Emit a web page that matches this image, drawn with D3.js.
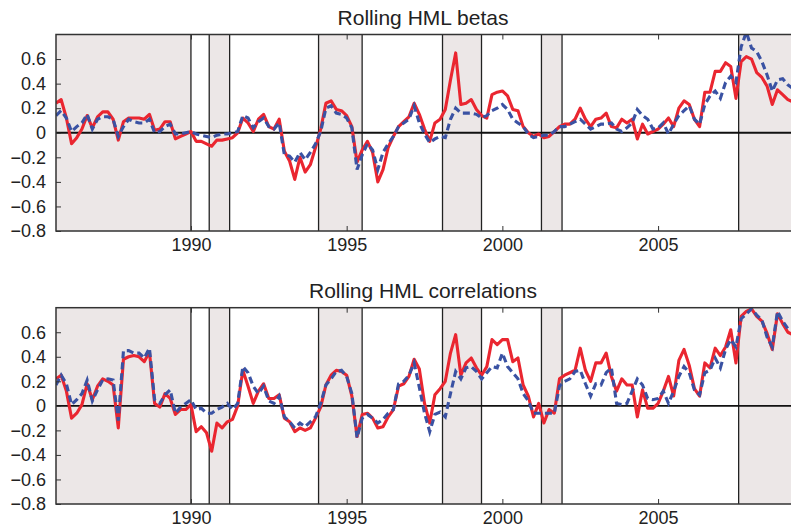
<!DOCTYPE html>
<html>
<head>
<meta charset="utf-8">
<script src="https://cdn.jsdelivr.net/npm/d3@7"></script>
<style>
  body { margin: 0; background: #fff; }
  svg { display: block; font-family: "Liberation Sans", Arial, Helvetica, sans-serif; }
</style>
</head>
<body>
<div id="chart"></div>
<script>
// Chart geometry
const WIDTH = 791;
const HEIGHT = 527;
const LEFT = 56;
const RIGHT = 792;
const PANELS = [
  { title: 'Rolling HML betas', top: 34.5, bottom: 231, titleY: 25 },
  { title: 'Rolling HML correlations', top: 307.7, bottom: 504, titleY: 298 }
];

// Data: bimonthly observations starting Sep 1985
const START_YEAR = 1985.667;
const END_YEAR = 2009.3;
const dates = d3.range(143).map(i => START_YEAR + i / 6);

const betaRed = [
  0.24, 0.27, 0.12, -0.09, -0.04, 0.03, 0.14, 0.04, 0.13, 0.17,
  0.17, 0.11, -0.06, 0.09, 0.12, 0.12, 0.12, 0.11, 0.15, 0.02,
  0.03, 0.09, 0.09, -0.05, -0.03, -0.01, 0.01, -0.07, -0.07, -0.09,
  -0.11, -0.06, -0.06, -0.05, -0.04, 0.0, 0.12, 0.08, 0.01, 0.11,
  0.15, 0.05, 0.03, 0.11, -0.15, -0.23, -0.38, -0.2, -0.32, -0.26,
  -0.12, 0.03, 0.24, 0.26, 0.19, 0.18, 0.14, 0.05, -0.24, -0.14,
  -0.07, -0.16, -0.4, -0.3, -0.12, -0.03, 0.05, 0.09, 0.13, 0.24,
  0.15, 0.03, -0.07, 0.08, 0.11, 0.19, 0.43, 0.65, 0.23, 0.24,
  0.27, 0.19, 0.14, 0.12, 0.31, 0.33, 0.34, 0.3, 0.19, 0.18,
  0.05, 0.0, -0.03, -0.01, -0.04, -0.03, 0.01, 0.05, 0.07, 0.07,
  0.11, 0.2, 0.11, 0.05, 0.11, 0.12, 0.16, 0.05, 0.04, 0.11,
  0.08, 0.11, -0.05, 0.07, -0.01, 0.01, 0.03, 0.07, 0.12, 0.05,
  0.2, 0.26, 0.23, 0.11, 0.05, 0.33, 0.33, 0.5, 0.5, 0.57,
  0.54, 0.28, 0.58, 0.62, 0.6, 0.49, 0.45, 0.38, 0.23, 0.35,
  0.31, 0.27, 0.25
];

const betaBlue = [
  0.14, 0.18, 0.12, 0.01, 0.05, 0.08, 0.15, 0.03, 0.11, 0.13,
  0.13, 0.11, -0.03, 0.05, 0.11, 0.09, 0.08, 0.08, 0.11, 0.0,
  0.01, 0.05, 0.07, -0.01, -0.01, 0.0, 0.01, -0.01, -0.02, -0.03,
  -0.04, -0.02, -0.01, -0.01, 0.0, 0.01, 0.14, 0.12, 0.04, 0.09,
  0.12, 0.05, 0.03, 0.08, -0.18, -0.19, -0.24, -0.16, -0.22, -0.16,
  -0.09, 0.01, 0.2, 0.22, 0.16, 0.15, 0.12, 0.04, -0.3, -0.18,
  -0.09, -0.14, -0.3, -0.16, -0.09, -0.03, 0.05, 0.08, 0.11, 0.22,
  0.08, -0.01, -0.08, -0.05, -0.03, -0.04, 0.11, 0.2, 0.16, 0.16,
  0.16, 0.15, 0.12, 0.14, 0.18, 0.2, 0.23, 0.19, 0.11, 0.08,
  0.05, -0.01, -0.04, -0.03, -0.02, -0.02, 0.01, 0.05, 0.05, 0.07,
  0.09, 0.11, 0.07, 0.03, 0.05, 0.07, 0.07, 0.08, 0.03, 0.01,
  0.04, 0.08, 0.19, 0.14, 0.11, 0.03, 0.04, 0.08, -0.01, 0.07,
  0.14, 0.18, 0.22, 0.11, 0.07, 0.23, 0.3, 0.34, 0.28, 0.41,
  0.46, 0.41, 0.7, 0.82, 0.69, 0.66, 0.58, 0.47, 0.34, 0.43,
  0.44, 0.39, 0.36
];

const corrRed = [
  0.22, 0.25, 0.12, -0.1, -0.06, 0.01, 0.18, 0.05, 0.16, 0.22,
  0.2, 0.17, -0.18, 0.38, 0.4, 0.41, 0.4, 0.36, 0.44, 0.02,
  -0.01, 0.1, 0.06, -0.07, -0.03, -0.03, 0.01, -0.21, -0.17, -0.22,
  -0.37, -0.14, -0.18, -0.13, -0.11, 0.0, 0.29, 0.16, 0.02, 0.12,
  0.18, 0.06, 0.06, 0.09, -0.1, -0.13, -0.21, -0.18, -0.2, -0.18,
  -0.1, -0.01, 0.17, 0.25, 0.29, 0.28, 0.25, 0.08, -0.25, -0.07,
  -0.06, -0.1, -0.18, -0.17, -0.09, -0.03, 0.16, 0.18, 0.24, 0.38,
  0.3, 0.02, -0.14, 0.09, 0.14, 0.2, 0.43, 0.58, 0.25, 0.35,
  0.39, 0.31, 0.25, 0.32, 0.54, 0.5, 0.54, 0.54, 0.36, 0.39,
  0.17, 0.08, -0.09, 0.02, -0.14, -0.03, -0.06, 0.22, 0.25, 0.27,
  0.29, 0.47, 0.29, 0.2, 0.35, 0.35, 0.43, 0.24, 0.12, 0.22,
  0.17, 0.17, -0.09, 0.13, -0.02, -0.02, 0.02, 0.12, 0.24, 0.08,
  0.37, 0.46, 0.33, 0.14, 0.08, 0.35, 0.31, 0.47, 0.41, 0.48,
  0.62, 0.35, 0.73, 0.77, 0.79, 0.73, 0.69, 0.59, 0.46, 0.75,
  0.67, 0.6, 0.58
];

const corrBlue = [
  0.17, 0.25, 0.18, 0.01, 0.05, 0.1, 0.21, 0.04, 0.13, 0.21,
  0.22, 0.21, -0.12, 0.45, 0.45, 0.43, 0.43, 0.39, 0.47, 0.05,
  0.02, 0.09, 0.13, -0.06, -0.01, 0.02, 0.05, -0.03, -0.02, -0.06,
  -0.06, -0.03, -0.01, 0.02, -0.03, 0.02, 0.32, 0.27, 0.16, 0.1,
  0.16, 0.04, 0.02, 0.08, -0.09, -0.13, -0.18, -0.14, -0.17, -0.13,
  -0.09, 0.02, 0.17, 0.22, 0.28, 0.29, 0.24, 0.1, -0.26, -0.1,
  -0.07, -0.1, -0.14, -0.11, -0.06, -0.03, 0.18, 0.2, 0.25, 0.35,
  0.15, -0.06, -0.21, -0.07, -0.05, -0.09, 0.1, 0.28, 0.22, 0.31,
  0.32, 0.28, 0.22, 0.27, 0.32, 0.31, 0.43, 0.32, 0.27, 0.22,
  0.1, 0.04, -0.06, -0.06, -0.06, -0.06, -0.06, 0.16, 0.2, 0.22,
  0.28, 0.29, 0.18, 0.08, 0.18, 0.17, 0.27, 0.31, 0.02, 0.01,
  0.02, 0.12, 0.22, 0.17, 0.06, 0.05, 0.06, 0.12, 0.02, 0.12,
  0.24, 0.32, 0.27, 0.13, 0.09, 0.27, 0.29, 0.39, 0.31, 0.46,
  0.54, 0.48, 0.71, 0.75, 0.79, 0.74, 0.7, 0.56, 0.48, 0.77,
  0.69, 0.63, 0.62
];

// Shaded periods and the vertical lines at their edges
const shadeStart = [START_YEAR, 1990.587, 1994.098, 1998.078, 2001.255, 2007.587];
const shadeEnd = [1990.0, 1991.242, 1995.497, 1999.33, 2001.916, END_YEAR];
const eventLines = [1990.0, 1990.587, 1991.242, 1994.098, 1995.497, 1998.078, 1999.33, 2001.255, 2001.916, 2007.587];

const xTicks = [1990, 1995, 2000, 2005];
const yTicks = [-0.8, -0.6, -0.4, -0.2, 0, 0.2, 0.4, 0.6];

const RED = '#ea2630';
const BLUE = '#3a52a3';
const SHADE = '#ece7e7';

const svg = d3.select('#chart')
  .append('svg')
  .attr('width', WIDTH)
  .attr('height', HEIGHT);

const x = d3.scaleLinear()
  .domain([START_YEAR, END_YEAR])
  .range([LEFT, RIGHT]);

drawPanel(PANELS[0], betaRed, betaBlue, 'clip-top');
drawPanel(PANELS[1], corrRed, corrBlue, 'clip-bottom');

function fmt (v) {
  if (v === 0) return '0';
  return (v < 0 ? '\u2212' : '') + Math.abs(v).toFixed(1);
}

function drawPanel (panel, red, blue, clipId) {
  const y = d3.scaleLinear()
    .domain([-0.8, 0.8])
    .range([panel.bottom, panel.top]);

  const g = svg.append('g');

  g.append('clipPath')
    .attr('id', clipId)
    .append('rect')
    .attr('x', LEFT)
    .attr('y', panel.top)
    .attr('width', RIGHT - LEFT)
    .attr('height', panel.bottom - panel.top);

  // shading
  g.selectAll('rect.shade')
    .data(d3.zip(shadeStart, shadeEnd))
    .join('rect')
    .attr('class', 'shade')
    .attr('x', d => x(d[0]))
    .attr('y', panel.top)
    .attr('width', d => x(d[1]) - x(d[0]))
    .attr('height', panel.bottom - panel.top)
    .attr('fill', SHADE);

  // vertical event lines
  g.selectAll('line.event')
    .data(eventLines)
    .join('line')
    .attr('class', 'event')
    .attr('x1', d => x(d))
    .attr('x2', d => x(d))
    .attr('y1', panel.top)
    .attr('y2', panel.bottom)
    .attr('stroke', '#222')
    .attr('stroke-width', 1.3);

  // zero line
  g.append('line')
    .attr('x1', LEFT)
    .attr('x2', RIGHT)
    .attr('y1', y(0))
    .attr('y2', y(0))
    .attr('stroke', '#111')
    .attr('stroke-width', 1.8);

  const line = d3.line()
    .x((d, i) => x(dates[i]))
    .y(d => y(d));

  const lines = g.append('g').attr('clip-path', `url(#${clipId})`);

  lines.append('path')
    .datum(red)
    .attr('d', line)
    .attr('fill', 'none')
    .attr('stroke', RED)
    .attr('stroke-width', 3.1)
    .attr('stroke-linejoin', 'round');

  lines.append('path')
    .datum(blue)
    .attr('d', line)
    .attr('fill', 'none')
    .attr('stroke', BLUE)
    .attr('stroke-width', 3.1)
    .attr('stroke-dasharray', '7,4');

  // frame
  g.append('rect')
    .attr('x', LEFT)
    .attr('y', panel.top)
    .attr('width', RIGHT + 4 - LEFT)
    .attr('height', panel.bottom - panel.top)
    .attr('fill', 'none')
    .attr('stroke', '#333')
    .attr('stroke-width', 1.5);

  // axes
  const yAxis = d3.axisLeft(y)
    .tickValues(yTicks)
    .tickFormat(fmt)
    .tickSizeInner(-5)
    .tickSizeOuter(0)
    .tickPadding(10);

  const xAxis = d3.axisBottom(x)
    .tickValues(xTicks)
    .tickFormat(d3.format('d'))
    .tickSizeInner(-5)
    .tickSizeOuter(0)
    .tickPadding(7);

  const xAxisTop = d3.axisTop(x)
    .tickValues(xTicks)
    .tickFormat('')
    .tickSizeInner(-5)
    .tickSizeOuter(0);

  [
    g.append('g').attr('transform', `translate(${LEFT},0)`).call(yAxis),
    g.append('g').attr('transform', `translate(0,${panel.bottom})`).call(xAxis),
    g.append('g').attr('transform', `translate(0,${panel.top})`).call(xAxisTop)
  ].forEach(a => {
    a.select('.domain').remove();
    a.selectAll('line').attr('stroke', '#333');
    a.selectAll('text')
      .attr('fill', '#222')
      .style('font-size', '18px')
      .style('font-family', '"Liberation Sans", Arial, sans-serif');
  });

  // title
  svg.append('text')
    .attr('x', 423)
    .attr('y', panel.titleY)
    .attr('text-anchor', 'middle')
    .attr('fill', '#222')
    .style('font-size', '21px')
    .text(panel.title);
}
</script>
</body>
</html>
